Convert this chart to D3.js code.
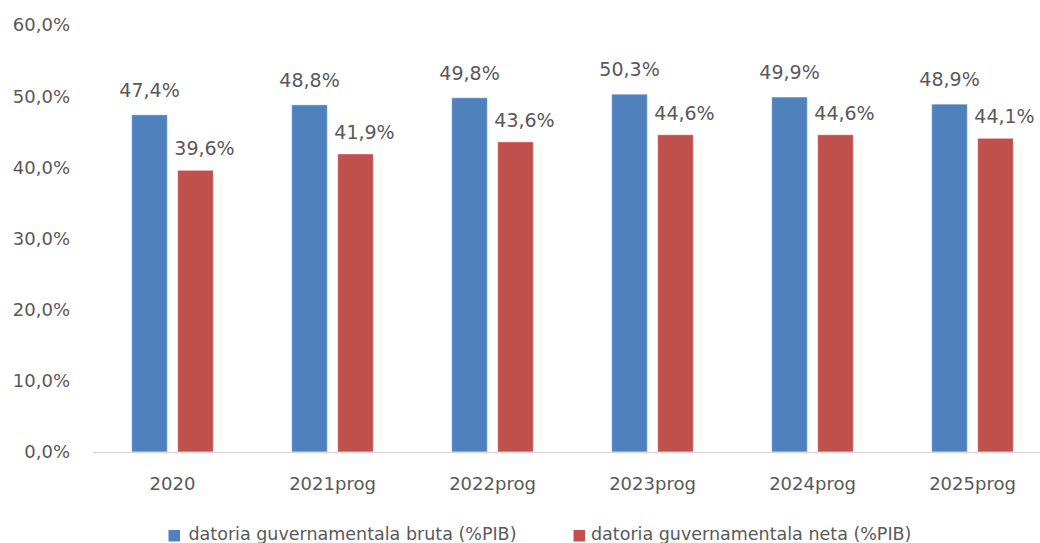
<!DOCTYPE html>
<html>
<head>
<meta charset="utf-8">
<script src="https://cdn.jsdelivr.net/npm/d3@7"></script>
<style>
  html, body { margin: 0; padding: 0; background: #fff; }
  svg { display: block; font-family: "DejaVu Sans", sans-serif; }
</style>
</head>
<body>
<svg id="chart" width="1040" height="543"></svg>
<script>
// ---- data ----
const categories = ["2020", "2021prog", "2022prog", "2023prog", "2024prog", "2025prog"];
const seriesNames = ["datoria guvernamentala bruta (%PIB)", "datoria guvernamentala neta (%PIB)"];
const brutaValues = [47.4, 48.8, 49.8, 50.3, 49.9, 48.9];
const netaValues = [39.6, 41.9, 43.6, 44.6, 44.6, 44.1];
const yTicks = [0, 10, 20, 30, 40, 50, 60];
const seriesColors = ["#4f81bd", "#c0504d"];

const seriesValues = [brutaValues, netaValues];
const fmt = v => v.toFixed(1).replace(".", ",") + "%";

const svg = d3.select("#chart");
const textColor = "#595959";

const x0 = d3.scaleBand().domain(categories).range([92.5, 1052.5]).paddingInner(0).paddingOuter(0);
const groupWidth = 81.6;
const x1 = d3.scaleBand().domain([0, 1]).range([0, groupWidth]).paddingInner(0.226).paddingOuter(0);
const groupOffset = (x0.bandwidth() - groupWidth) / 2;
const y = d3.scaleLinear().domain([0, 60]).range([452, 25.2]);

// y axis (labels only)
const yAxis = svg.append("g")
  .attr("transform", "translate(92.5,0)")
  .call(d3.axisLeft(y).tickValues(yTicks).tickSize(0).tickPadding(22.5).tickFormat(fmt));
yAxis.select(".domain").remove();
yAxis.selectAll("text")
  .attr("fill", textColor)
  .style("font-size", "18px")
  .style("font-family", "DejaVu Sans, sans-serif");

// bars
const groups = svg.append("g").selectAll("g")
  .data(categories)
  .join("g")
  .attr("transform", d => `translate(${x0(d) + groupOffset},0)`);

groups.selectAll("rect")
  .data((d, i) => seriesValues.map((vals, s) => ({ s, v: vals[i] })))
  .join("rect")
  .attr("x", d => x1(d.s))
  .attr("width", x1.bandwidth())
  .attr("y", d => y(d.v))
  .attr("height", d => y(0) - y(d.v))
  .attr("fill", d => seriesColors[d.s])
  .attr("stroke", "#ffffff")
  .attr("stroke-opacity", 0.45)
  .attr("stroke-width", 1);

// x axis
const xAxis = svg.append("g")
  .attr("transform", "translate(0,452)")
  .call(d3.axisBottom(x0).tickSize(0).tickPadding(25.7));
xAxis.select(".domain")
  .attr("stroke", "#d9d9d9")
  .attr("stroke-width", 1.5);
xAxis.selectAll("text")
  .attr("fill", textColor)
  .style("font-size", "18px")
  .style("font-family", "DejaVu Sans, sans-serif");

// data labels
groups.selectAll("text.lbl")
  .data((d, i) => seriesValues.map((vals, s) => ({ s, v: vals[i] })))
  .join("text")
  .attr("class", "lbl")
  .attr("x", d => x1(d.s) + x1.bandwidth() / 2 + (d.s === 1 ? 9 : 0))
  .attr("y", d => y(d.v) - (d.s === 1 ? 15 : 18))
  .attr("text-anchor", "middle")
  .attr("fill", textColor)
  .style("font-size", "19px")
  .text(d => fmt(d.v));

// legend
const legendX = [168.5, 573.5];
const legend = svg.append("g").selectAll("g")
  .data(seriesNames)
  .join("g")
  .attr("transform", (d, i) => `translate(${legendX[i]},0)`);
legend.append("rect")
  .attr("x", 0).attr("y", 530)
  .attr("width", 11.5).attr("height", 11.5)
  .attr("fill", (d, i) => seriesColors[i]);
legend.append("text")
  .attr("x", d => d.includes("bruta") ? 20 : 17.5).attr("y", 540)
  .attr("fill", textColor)
  .style("font-size", "17.5px")
  .text(d => d);
</script>
</body>
</html>
